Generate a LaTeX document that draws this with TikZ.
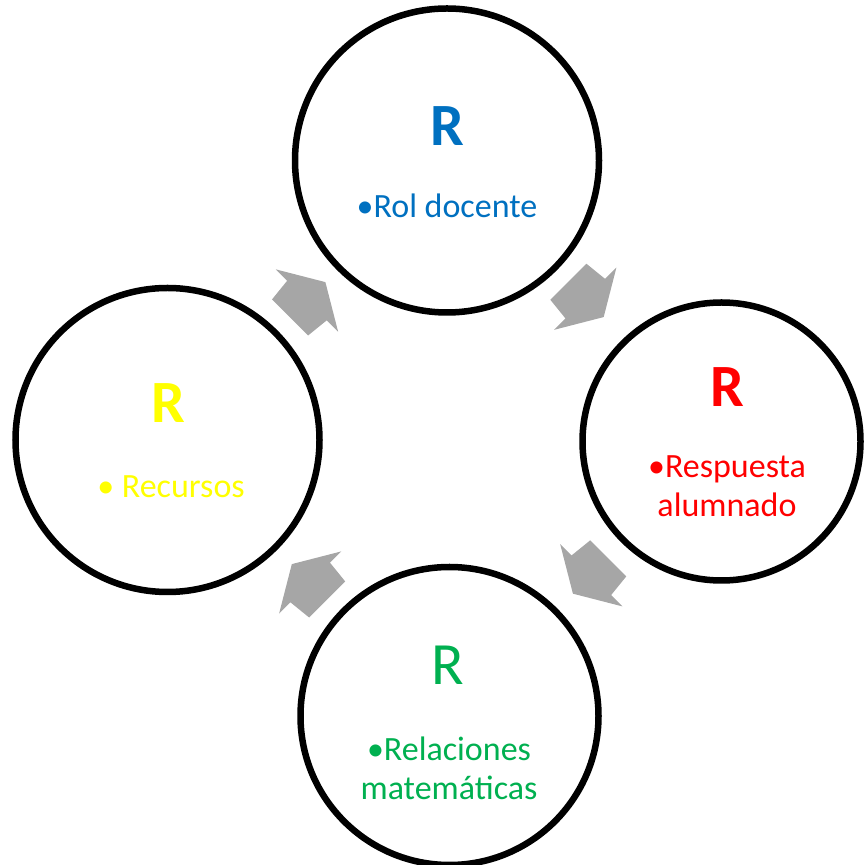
\documentclass[tikz,border=0pt]{standalone}
\usepackage{fontspec}
\setmainfont{Carlito}
\definecolor{rolblue}{HTML}{0070C0}
\definecolor{resred}{HTML}{FF0000}
\definecolor{relgreen}{HTML}{00B050}
\definecolor{recyellow}{HTML}{FFFF00}
\definecolor{arrowgray}{HTML}{A6A6A6}
\tikzset{blockarrow/.pic={\fill[arrowgray] (-25,-25.5) -- (-1,-28) -- (-1,-44) -- (25,0) -- (-1,44) -- (-1,28) -- (-25,25.5) -- cycle;}}
\begin{document}
\begin{tikzpicture}[x=1pt, y=1pt,
  ring/.style={shape=circle, draw=black, line width=6.5pt, inner sep=0pt, outer sep=0pt},
  bigr/.style={font=\fontsize{60}{60}\selectfont, anchor=base, inner sep=0pt},
  item/.style={font=\fontsize{34}{39}\selectfont, anchor=base, align=center, inner sep=0pt}]
\useasboundingbox (0,0) rectangle (864,865);
% the four R circles
\node[ring, minimum size=304] (rol) at (447,704.5) {};
\node[ring, minimum size=278] (resp) at (721.5,423.5) {};
\node[ring, minimum size=298] (rel) at (449.5,149) {};
\node[ring, minimum size=304] (recu) at (167.5,425) {};
% texts (base of a two-line text is its last line)
\node[bigr, text=rolblue] (rolR) at (447,719) {\bfseries R};
\node[item, text=rolblue] (roltxt) at (447,647) {\textbullet Rol docente};
\node[bigr, text=resred] (respR) at (727,458) {\bfseries R};
\node[item, text=resred] (resptxt) at (727,348) {\textbullet Respuesta\\alumnado};
\node[bigr, text=relgreen] (relR) at (448,180) {R};
\node[item, text=relgreen] (reltxt) at (449,65) {\textbullet Relaciones\\matemáticas};
\node[bigr, text=recyellow] (recuR) at (168,442) {\bfseries R};
\node[item, text=recyellow] (recutxt) at (171,367) {\textbullet{} Recursos};
% cycle arrows
\pic[rotate=45] at (307.7,565.2) {blockarrow};
\pic[rotate=-45] at (586,565.6) {blockarrow};
\pic[rotate=-135] at (590.6,289) {blockarrow};
\pic[rotate=135] at (309.5,283.2) {blockarrow};
\end{tikzpicture}
\end{document}
